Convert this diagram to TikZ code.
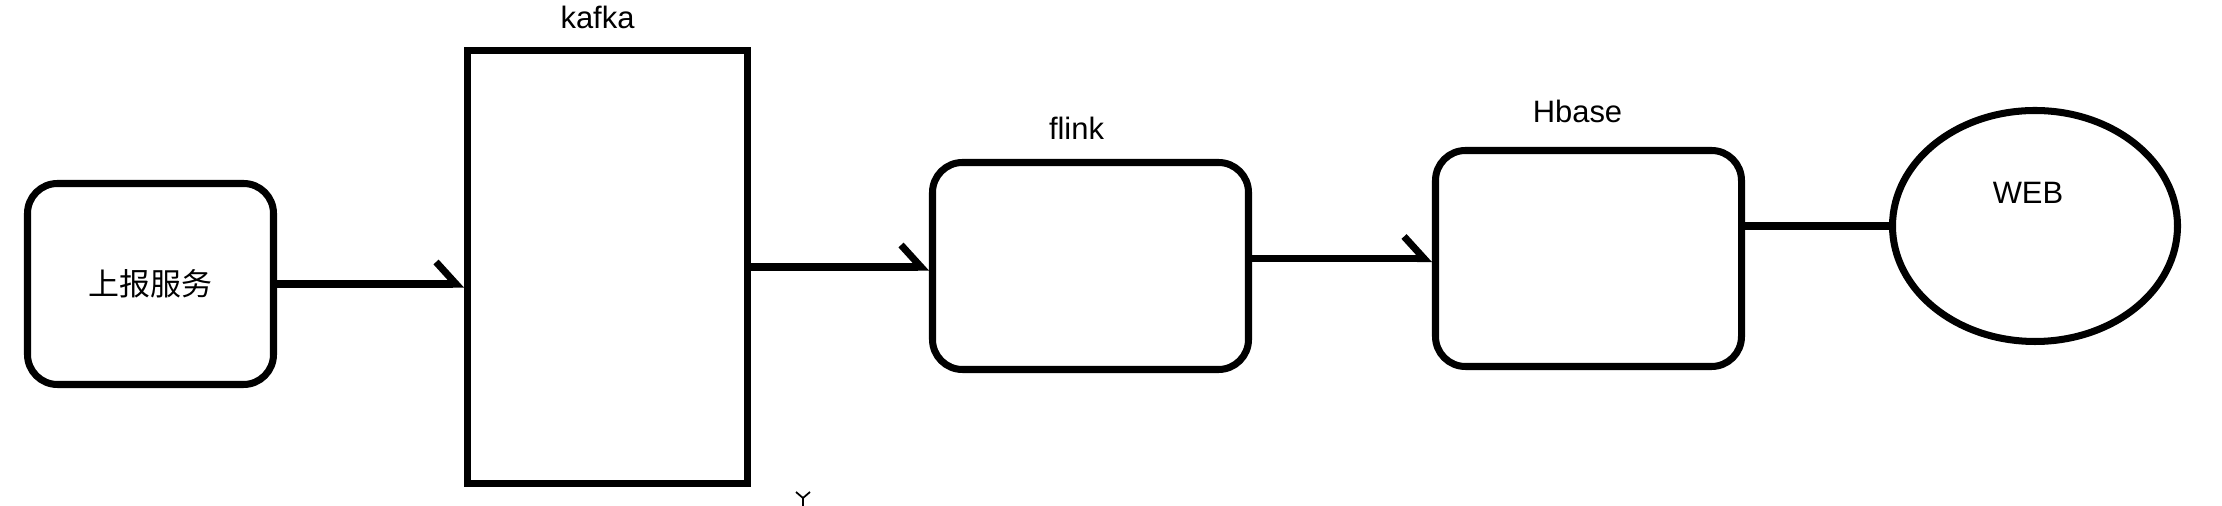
\documentclass[tikz,border=0pt]{standalone}
\usepackage{fontspec}
\setmainfont{Liberation Sans}
\newfontfamily\cjk{Noto Sans CJK SC}
\usetikzlibrary{shapes.geometric, arrows.meta, positioning}
\tikzstyle{service} = [rectangle, rounded corners=0.3cm, minimum width=2.46cm, minimum height=2.01cm, text centered, draw=black, line width=2pt, font=\fontsize{8.8pt}{10pt}\selectfont]
\tikzstyle{queue} = [rectangle, minimum width=2.8cm, minimum height=4.33cm, draw=black, line width=2pt]
\tikzstyle{store} = [rectangle, rounded corners=0.3cm, draw=black, line width=2pt]
\tikzstyle{client} = [ellipse, minimum width=2.85cm, minimum height=2.31cm, draw=black, line width=2pt]
\tikzstyle{tag} = [font=\fontsize{8.8pt}{10pt}\selectfont, inner sep=0pt]
\tikzstyle{arrow} = [line width=2pt, -{Straight Barb[harpoon, length=0.2cm, width=0.44cm]}]
\tikzstyle{link} = [line width=2pt]

\begin{document}
\begin{tikzpicture}
    \useasboundingbox (0,0) rectangle (22.22,-5.06);

    \node (report) [service] at (1.505,-2.84) {\cjk 上报服务};
    \node (kafka) [queue] at (6.075,-2.67) {};
    \node (flink) [store, minimum width=3.16cm, minimum height=2.07cm] at (10.905,-2.66) {};
    \node (hbase) [store, minimum width=3.06cm, minimum height=2.16cm] at (15.885,-2.585) {};
    \node (web) [client] at (20.35,-2.26) {};

    % Etiquetas
    \node (kafkatag) [tag, above=0.17cm of kafka, xshift=-0.1cm] {kafka};
    \node (flinktag) [tag, above=0.19cm of flink, xshift=-0.14cm] {flink};
    \node (hbasetag) [tag, above=0.23cm of hbase, xshift=-0.11cm] {Hbase};
    \node (webtag) [tag] at ([xshift=-0.07cm, yshift=0.33cm]web.center) {WEB};

    % Flechas
    \draw [arrow] (report.east) -- (report.east -| kafka.west);
    \draw [arrow] (kafka.east) -- (kafka.east -| flink.west);
    \draw [arrow] (hbase.west -| flink.east) -- (hbase.west);
    \draw [link] (web.west -| hbase.east) -- (web.west);

    % cursor
    \draw [line width=0.5pt] (7.96,-4.92) -- (8.03,-4.98) -- (8.10,-4.92) (8.03,-4.98) -- (8.03,-5.06);
\end{tikzpicture}
\end{document}
